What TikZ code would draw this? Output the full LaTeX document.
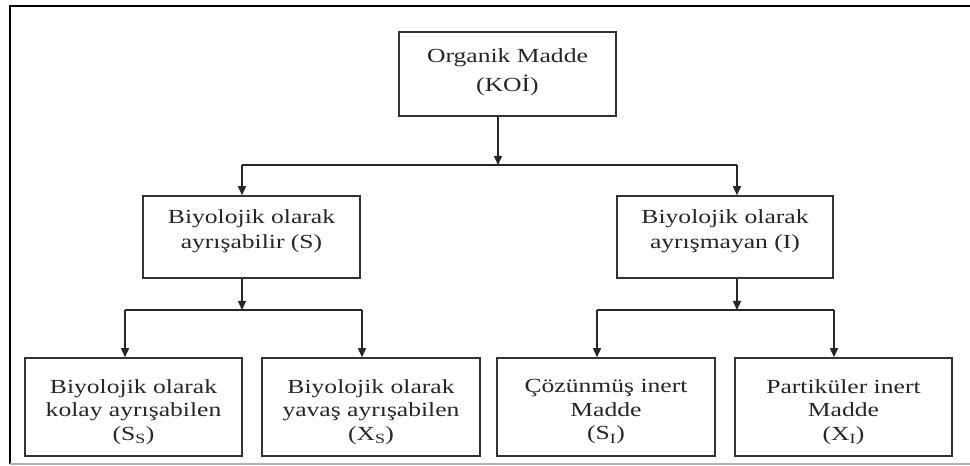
\documentclass[tikz,border=0pt]{standalone}
\usepackage{fontspec}
\newfontfamily\diafont[FakeStretch=1.28]{Liberation Serif}
\usetikzlibrary{arrows.meta,shadows}

\tikzset{
  x=1pt, y=1pt,
  box/.style={draw=black!80, line width=1.5pt, fill=white, rectangle,
    drop shadow={shadow xshift=1pt, shadow yshift=-1pt, fill=black!45, opacity=0.6}},
  boxtext/.style={align=center, inner sep=0pt, text=black!85},
  toptext/.style={boxtext, font=\diafont\fontsize{20}{29}\selectfont},
  midtext/.style={boxtext, font=\diafont\fontsize{20}{25}\selectfont},
  lowtext/.style={boxtext, font=\diafont\fontsize{20}{23.5}\selectfont},
  link/.style={draw=black!85, line width=1.4pt},
  arr/.style={link, -{Triangle[length=9pt,width=8pt]}},
}

\begin{document}
\begin{tikzpicture}
  \useasboundingbox (0,0) rectangle (970,466);

  % page frame: top and left rules, light rule at the foot
  \draw[black, line width=1.8pt] (970,460) -- (10,460) -- (10,2);
  \draw[black!30, line width=1.5pt] (10,2) -- (970,2);

  % boxes
  \node[box, minimum width=217pt, minimum height=84pt] (top) at (507.5,392) {};
  \node[box, minimum width=217pt, minimum height=82pt] (mL) at (251.5,229) {};
  \node[box, minimum width=216pt, minimum height=82pt] (mR) at (725,229) {};
  \node[box, minimum width=217pt, minimum height=98pt] (b1) at (133.5,59) {};
  \node[box, minimum width=218pt, minimum height=98pt] (b2) at (371,59) {};
  \node[box, minimum width=218pt, minimum height=98pt] (b3) at (606,59) {};
  \node[box, minimum width=217pt, minimum height=98pt] (b4) at (843.5,59) {};

  % box labels
  \node[toptext] (topT) at ([yshift=2pt]top.center) {Organik Madde\\(KOİ)};
  \node[midtext] (mLT) at ([yshift=6pt]mL.center) {Biyolojik olarak\\ayrışabilir (S)};
  \node[midtext] (mRT) at ([yshift=6pt]mR.center) {Biyolojik olarak\\ayrışmayan (I)};
  \node[lowtext] (b1T) at ([yshift=-5pt]b1.center) {Biyolojik olarak\\kolay ayrışabilen\\(S\textsubscript{S})};
  \node[lowtext] (b2T) at ([yshift=-5pt]b2.center) {Biyolojik olarak\\yavaş ayrışabilen\\(X\textsubscript{S})};
  \node[lowtext] (b3T) at ([yshift=-5pt]b3.center) {Çözünmüş inert\\Madde\\(S\textsubscript{I})};
  \node[lowtext] (b4T) at ([yshift=-5pt]b4.center) {Partiküler inert\\Madde\\(X\textsubscript{I})};

  % first split
  \coordinate (j0) at (498,301);
  \coordinate (j0L) at (242,301);
  \coordinate (j0R) at (737,301);
  \draw[arr] (top.south -| j0) -- (j0);
  \draw[link] (j0L) -- (j0R);
  \draw[arr] (j0L) -- (j0L |- mL.north);
  \draw[arr] (j0R) -- (j0R |- mR.north);

  % second split, left branch
  \coordinate (jL) at (242,156);
  \coordinate (jLa) at (125,156);
  \coordinate (jLb) at (362,156);
  \draw[arr] (mL.south -| jL) -- (jL);
  \draw[link] (jLa) -- (jLb);
  \draw[arr] (jLa) -- (jLa |- b1.north);
  \draw[arr] (jLb) -- (jLb |- b2.north);

  % second split, right branch
  \coordinate (jR) at (737,156);
  \coordinate (jRa) at (597,156);
  \coordinate (jRb) at (834,156);
  \draw[arr] (mR.south -| jR) -- (jR);
  \draw[link] (jRa) -- (jRb);
  \draw[arr] (jRa) -- (jRa |- b3.north);
  \draw[arr] (jRb) -- (jRb |- b4.north);
\end{tikzpicture}
\end{document}
